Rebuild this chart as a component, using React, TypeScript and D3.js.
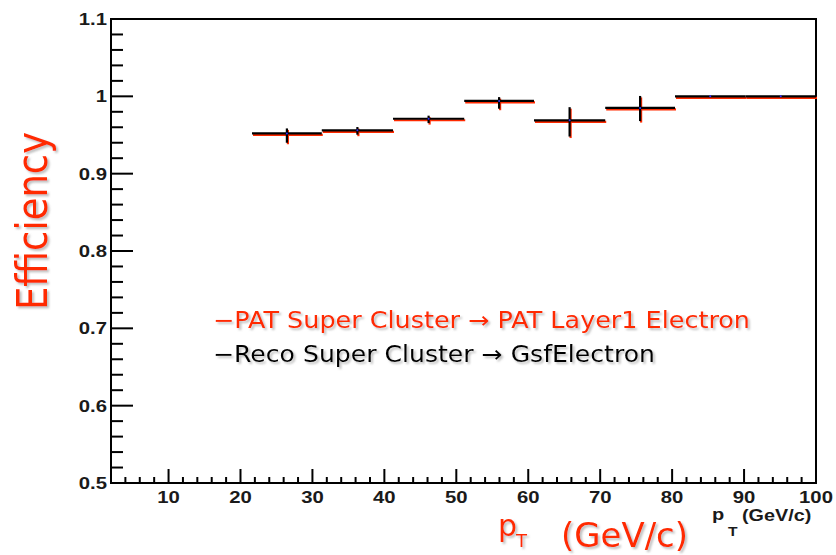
import React from "react";
import * as d3 from "d3";

const binEdges = [21.6, 31.3, 41.2, 51.1, 60.8, 70.7, 80.4, 90.2, 100];
const effPAT = [0.952, 0.956, 0.971, 0.994, 0.969, 0.985, 1.0, 1.0];
const errLowPAT = [0.012, 0.0056, 0.0056, 0.01, 0.021, 0.017, 0, 0];
const errHighPAT = [0.0065, 0.0043, 0.004, 0.005, 0.017, 0.0155, 0, 0];
const effReco = [0.952, 0.956, 0.971, 0.994, 0.969, 0.985, 1.0, 1.0];
const errLowReco = [0.012, 0.0056, 0.0056, 0.01, 0.021, 0.017, 0, 0];
const errHighReco = [0.0065, 0.0043, 0.004, 0.005, 0.017, 0.0155, 0, 0];

const xTickValues = [10, 20, 30, 40, 50, 60, 70, 80, 90, 100];
const yTickValues = [0.5, 0.6, 0.7, 0.8, 0.9, 1, 1.1];
const yTickLabels = ["0.5", "0.6", "0.7", "0.8", "0.9", "1", "1.1"];
const legendLabels = ["\u2212PAT Super Cluster \u2192 PAT Layer1 Electron", "\u2212Reco Super Cluster \u2192 GsfElectron"];

const W = 836, H = 555;
const M = { left: 111, right: 20, top: 19, bottom: 72 };
const RED = "#ff2a00";

export default function App() {
  const x = d3.scaleLinear().domain([2, 100]).range([M.left, W - M.right]);
  const y = d3.scaleLinear().domain([0.5, 1.1]).range([H - M.bottom, M.top]);
  const x0 = M.left, y0 = H - M.bottom;

  const xMinor = d3.range(4, 100, 2).filter((v) => v % 10 !== 0);
  const yMinor = d3.range(0.52, 1.1, 0.02).filter((v) => Math.abs(v * 10 - Math.round(v * 10)) > 1e-6);

  const series = (eff: number[], lo: number[], hi: number[], color: string, dx: number, dy: number) => (
    <g transform={`translate(${dx},${dy})`} stroke={color} strokeWidth={2.2}>
      {eff.map((v, i) => {
        const xl = x(binEdges[i]), xr = x(binEdges[i + 1]);
        const xc = x((binEdges[i] + binEdges[i + 1]) / 2);
        return (
          <g key={i}>
            <line x1={xl} x2={xr} y1={y(v)} y2={y(v)} />
            {(lo[i] > 0 || hi[i] > 0) && <line x1={xc} x2={xc} y1={y(v + hi[i])} y2={y(v - lo[i])} />}
          </g>
        );
      })}
    </g>
  );

  const markers = effReco.map((v, i) => (
    <circle key={i} cx={x((binEdges[i] + binEdges[i + 1]) / 2)} cy={y(v)} r={1} fill="#3030ff" />
  ));

  return (
    <div style={{ position: "absolute", left: 0, top: 0 }}>
      <svg width={W} height={H} style={{ display: "block", background: "#fff" }}>
        <defs>
          <filter id="sh" x="-10%" y="-20%" width="130%" height="160%">
            <feDropShadow dx="2" dy="2" stdDeviation="1.2" floodColor="#888" floodOpacity="0.55" />
          </filter>
        </defs>
        {/* frame */}
        <rect x={M.left} y={M.top} width={W - M.left - M.right} height={H - M.top - M.bottom} fill="none" stroke="#000" strokeWidth={2} />
        {/* ticks */}
        <g stroke="#000" strokeWidth={2}>
          {yTickValues.map((v) => (
            <line key={"ym" + v} x1={x0} x2={x0 + 22} y1={y(v)} y2={y(v)} />
          ))}
          {yMinor.map((v) => (
            <line key={"yn" + v} x1={x0} x2={x0 + 12} y1={y(v)} y2={y(v)} />
          ))}
          {xTickValues.map((v) => (
            <line key={"xm" + v} x1={x(v)} x2={x(v)} y1={y0} y2={y0 - 14} />
          ))}
          {xMinor.map((v) => (
            <line key={"xn" + v} x1={x(v)} x2={x(v)} y1={y0} y2={y0 - 6} />
          ))}
        </g>
        {/* tick labels */}
        <g fontFamily="'Liberation Sans', Arial, sans-serif" fontWeight="bold" fontSize={16} fill="#1a1a1a">
          {yTickValues.map((v, i) => (
            <text key={"yl" + v} transform={`translate(${x0 - 4},${y(v) + 6}) scale(1.27,1)`} textAnchor="end">
              {yTickLabels[i]}
            </text>
          ))}
          {xTickValues.map((v) => (
            <text key={"xl" + v} transform={`translate(${x(v)},${y0 + 20}) scale(1.27,1)`} textAnchor="middle">
              {String(v)}
            </text>
          ))}
        </g>
        {/* small axis title */}
        <g fontFamily="'Liberation Sans', Arial, sans-serif" fontWeight="bold" fill="#1a1a1a">
          <text transform={`translate(712,520) scale(1.25,1)`} fontSize={16}>p</text>
          <text transform={`translate(728,536) scale(1.2,1)`} fontSize={13}>T</text>
          <text transform={`translate(742,521) scale(1.2,1)`} fontSize={16.5}>(GeV/c)</text>
        </g>
        {/* data */}
        {series(effPAT, errLowPAT, errHighPAT, RED, 1, 1.5)}
        {series(effReco, errLowReco, errHighReco, "#000", 0, 0)}
        {markers}
        {/* legend */}
        <g fontFamily="'DejaVu Sans', Verdana, sans-serif" fontSize={23} filter="url(#sh)">
          <text x={213} y={328} fill={RED} textLength={537} lengthAdjust="spacingAndGlyphs">{legendLabels[0]}</text>
          <text x={213} y={362} fill="#000" textLength={442} lengthAdjust="spacingAndGlyphs">{legendLabels[1]}</text>
        </g>
        {/* big axis titles */}
        <g fontFamily="'DejaVu Sans', Verdana, sans-serif" fill={RED} filter="url(#sh)">
          <text transform="translate(47,221) rotate(-90)" fontSize={42} textAnchor="middle" textLength={178} lengthAdjust="spacingAndGlyphs">Efficiency</text>
          <text x={498} y={536} fontSize={30}>p</text>
          <text x={516} y={547} fontSize={18}>T</text>
          <text x={561} y={547} fontSize={33} textLength={127} lengthAdjust="spacingAndGlyphs">(GeV/c)</text>
        </g>
      </svg>
    </div>
  );
}
